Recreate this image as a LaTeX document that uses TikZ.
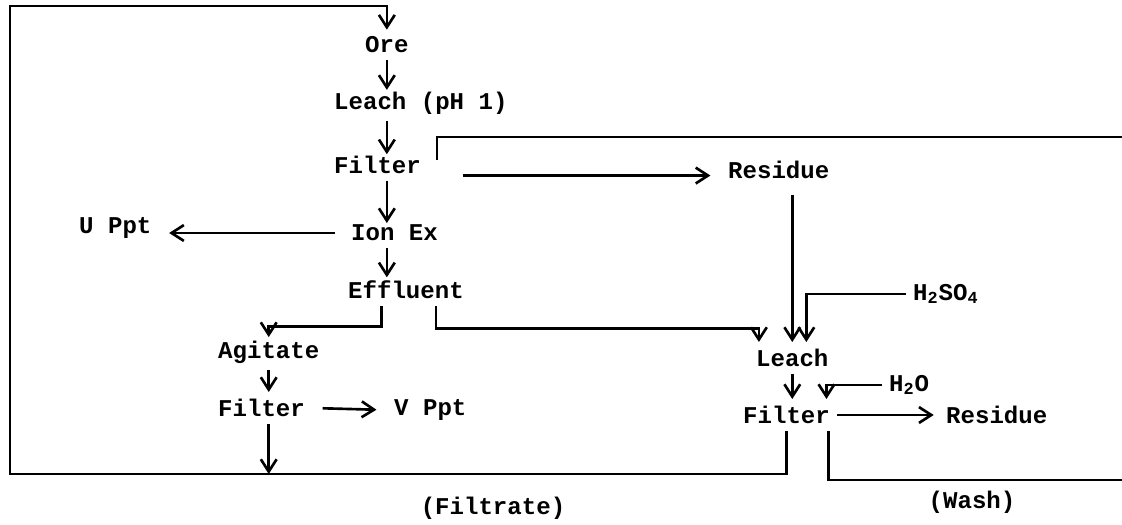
\documentclass[tikz,border=0pt]{standalone}
\usepackage{fontspec}
\setmonofont{Liberation Mono}
\usetikzlibrary{arrows.meta}

\begin{document}
\begin{tikzpicture}[x=0.02cm, y=-0.02cm, line width=1.5pt,
		>={Straight Barb[length=7pt,width=9pt]},
		every node/.style={font=\ttfamily\bfseries\fontsize{13.7}{16}\selectfont, anchor=west}]

		\useasboundingbox (0,0) rectangle (1122,524);

		\node (1) at (358,45) {Ore};
		\node (2) at (327,103) {Leach (pH 1)};
		\node (3) at (327,165) {Filter};
		\node (4) at (344,233) {Ion Ex};
		\node (5) at (341,290) {Effluent};
		\node (6) at (72,228) {U Ppt};
		\node (7) at (721,170) {Residue};
		\node (8) at (211,352) {Agitate};
		\node (9) at (211,408) {Filter};
		\node (10) at (387,410) {V Ppt};
		\node (11) at (749,358) {Leach};
		\node (12) at (736,415) {Filter};
		\node (13) at (939,415) {Residue};
		\node (14) at (906,294) {H\textsubscript{2}SO\textsubscript{4}};
		\node (15) at (882,385) {H\textsubscript{2}O};
		\node[anchor=center] (16) at (493,508) {(Filtrate)};
		\node[anchor=center] (17) at (972,502) {(Wash)};

		\coordinate (c1) at (10,474);
		\coordinate (c2) at (10,6);
		\coordinate (w0) at (437,160);
		\coordinate (w1) at (1122,137);
		\coordinate (w2) at (1122,480);

		% filtrate back to the ore
		\draw[->] (12.south) |- (c1) -- (c2) -| (1.north);
		\draw[->] (8 |- 9.south) -- (8 |- c1);

		% wash
		\draw (w0) |- (w1);
		\draw ([xshift=-5pt]12.south east) |- (w2);

		% main line
		\draw[->, shorten >=-3pt] (1.south) -- (1.south |- 2.north);
		\draw[->, shorten >=-3pt] (1 |- 2.south) -- (1 |- 3.north);
		\draw[->, shorten >=-3pt] (1 |- 3.south) -- (1 |- 4.north);
		\draw[->, shorten >=-2pt] (1 |- 4.south) -- (1 |- 5.north);
		\draw[->, shorten <=5pt, shorten >=6pt] (4.west) -- (4.west -| 6.east);
		\draw[->, shorten <=20pt, shorten >=6pt] ([yshift=-6pt]3.east) -- ([yshift=-6pt]3.east -| 7.west);

		% effluent
		\draw[->, shorten >=-2pt] ([xshift=-14pt]5.south) -- ++(0,20) -| (8.north);
		\draw[->] ([xshift=17pt]5.south) -- ++(0,22) -| ([xshift=-19pt]11.north);
		\draw[->] (8.south) -- (8 |- 9.north);
		\draw[->, shorten <=6pt, shorten >=6pt] (9.east) -- (10.west);

		% second leach
		\draw[->, shorten <=5pt] (7.south -| 11.north) -- (11.north);
		\draw[->] (14.west) -| ([xshift=8pt]11.north);
		\draw[->] (11.south) -- (11.south |- 12.north);
		\draw[->] (15.west) -| ([xshift=-6pt]12.north east);
		\draw[->, shorten >=3pt] (12.east) -- (13.west);
		\end{tikzpicture}
\end{document}
